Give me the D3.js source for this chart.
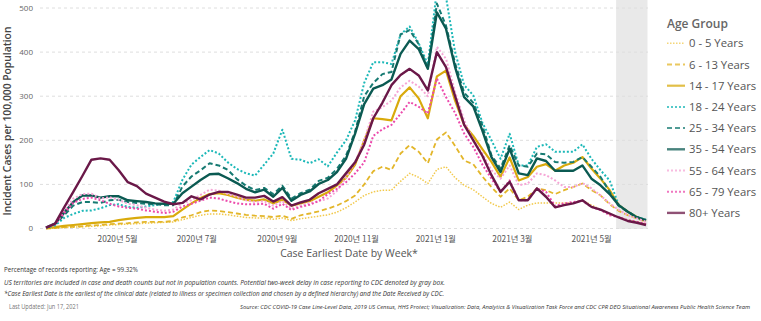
<!DOCTYPE html>
<html>
<head>
<meta charset="utf-8">
<script src="https://cdn.jsdelivr.net/npm/d3@7"></script>
<style>
  body { margin: 0; background: #fff; }
  svg { display: block; font-family: "Open Sans", "Noto Sans", sans-serif; }
</style>
</head>
<body>
<div id="chart"></div>
<script>
// weekly incidence per 100k, first week starting 2020-03-08
const firstWeek = '2020-03-08';
const weekCount = 67;
const delayStart = '2021-05-21';
const monthTicks = ['2020-05-01', '2020-07-01', '2020-09-01', '2020-11-01', '2021-01-01', '2021-03-01', '2021-05-01'];
const yTicks = [0, 100, 200, 300, 400, 500];

const ageGroups = ['0 - 5 Years', '6 - 13 Years', '14 - 17 Years', '18 - 24 Years', '25 - 34 Years',
  '35 - 54 Years', '55 - 64 Years', '65 - 79 Years', '80+ Years'];

const age0to5 = [0, 1, 2, 3, 4, 5, 6, 8, 9, 10, 11, 12, 13, 14, 15, 20, 25, 30, 33, 33, 31, 28, 25,
  24, 24, 21, 24, 18, 22, 25, 28, 31, 37,
  47, 60, 75, 83, 87, 87, 107, 125, 116, 102, 134, 140, 115, 98, 88, 72, 57,
  48, 60, 43, 53, 58, 58, 58, 58, 58, 64, 53, 43, 32, 26, 19, 15, 11];
const age6to13 = [0, 1, 3, 4, 5, 7, 8, 10, 11, 12, 14, 15, 15, 15, 17, 25, 30, 37, 41, 40, 37, 34, 31,
  29, 28, 26, 29, 22, 30, 34, 39, 45, 52,
  62, 75, 100, 130, 140, 133, 170, 189, 174, 148, 202, 218, 187, 154, 146, 118, 94,
  72, 91, 64, 72, 91, 87, 78, 87, 94, 102, 87, 75, 55, 40, 30, 23, 15];
const age14to17 = [1, 3, 6, 8, 10, 12, 14, 15, 19, 22, 24, 26, 26, 26, 28, 43, 57, 69, 78, 80, 76, 70, 65,
  63, 66, 57, 65, 52, 57, 62, 72, 82, 98,
  115, 145, 200, 250, 248, 245, 300, 320, 295, 250, 345, 358, 290, 235, 210, 180, 151,
  117, 161, 109, 117, 140, 146, 131, 143, 149, 162, 136, 113, 87, 53, 38, 26, 17];
const age18to24 = [2, 7, 24, 33, 40, 41, 46, 53, 55, 49, 47, 50, 53, 56, 60, 110, 145, 162, 178, 170, 150, 135, 125,
  120, 145, 170, 224, 158, 156, 148, 157, 141, 172,
  200, 245, 330, 377, 377, 373, 440, 458, 420, 372, 540, 525, 400, 325, 302, 240, 200,
  158, 215, 143, 143, 185, 191, 174, 174, 174, 191, 158, 132, 109, 53, 38, 26, 20];
const age25to34 = [2, 10, 30, 52, 60, 60, 58, 64, 65, 60, 58, 56, 55, 53, 53, 95, 118, 132, 148, 143, 133, 112, 97,
  87, 92, 78, 97, 68, 80, 88, 108, 115, 135,
  165, 220, 300, 330, 350, 355, 440, 450, 418, 362, 510, 460, 375, 308, 285, 234, 166,
  136, 189, 143, 140, 170, 168, 151, 149, 151, 162, 140, 117, 83, 51, 38, 26, 19];
const age35to54 = [2, 11, 36, 60, 75, 75, 70, 73, 73, 64, 62, 60, 57, 56, 56, 80, 95, 110, 123, 124, 114, 103, 90,
  82, 88, 72, 92, 63, 76, 84, 101, 110, 128,
  158, 215, 282, 317, 325, 338, 396, 426, 407, 362, 490, 453, 366, 298, 277, 222, 162,
  128, 181, 125, 121, 159, 153, 131, 131, 131, 143, 113, 98, 78, 53, 38, 25, 19];
const age55to64 = [2, 11, 40, 68, 78, 79, 68, 71, 65, 56, 53, 47, 43, 40, 43, 57, 64, 76, 88, 86, 78, 72, 64,
  60, 62, 52, 62, 45, 52, 58, 62, 68, 85,
  115, 150, 200, 265, 275, 290, 320, 335, 322, 300, 412, 385, 310, 245, 200, 170, 132,
  113, 143, 98, 102, 125, 121, 109, 94, 94, 103, 91, 75, 57, 42, 30, 23, 15];
const age65to79 = [2, 10, 35, 58, 67, 70, 64, 56, 50, 47, 45, 41, 38, 35, 38, 50, 56, 63, 70, 68, 62, 57, 55,
  55, 56, 45, 56, 42, 49, 54, 62, 78, 90,
  105, 125, 150, 210, 225, 235, 260, 287, 276, 261, 340, 298, 262, 215, 185, 145, 113,
  83, 109, 64, 64, 91, 83, 51, 57, 60, 63, 49, 42, 30, 26, 19, 15, 10];
const age80plus = [2, 11, 48, 83, 119, 156, 159, 156, 132, 105, 96, 79, 70, 61, 55, 58, 73, 66, 77, 83, 83, 77, 70,
  70, 74, 61, 71, 52, 59, 65, 80, 90, 100,
  125, 150, 190, 250, 285, 325, 348, 362, 347, 313, 400, 366, 300, 235, 200, 165, 121,
  83, 106, 64, 64, 91, 72, 48, 53, 57, 64, 49, 43, 34, 25, 17, 13, 8];

const seriesValues = [age0to5, age6to13, age14to17, age18to24, age25to34, age35to54, age55to64, age65to79, age80plus];

const lineStyles = [
  { color: '#f2c94c', width: 1.5, dash: '1.5,1.5' },
  { color: '#e3b62a', width: 1.8, dash: '5,3' },
  { color: '#d9aa0c', width: 2.2, dash: null },
  { color: '#1cb8b8', width: 2, dash: '2,2' },
  { color: '#167a72', width: 2, dash: '5,3' },
  { color: '#0b5a52', width: 2.4, dash: null },
  { color: '#f6a6d6', width: 2, dash: '2,2' },
  { color: '#ec4aac', width: 2, dash: '2,2' },
  { color: '#6a1848', width: 2.4, dash: null }
];

const W = 761, H = 321;
const parse = d3.utcParse('%Y-%m-%d');
const start = parse(firstWeek);
const weeks = d3.range(weekCount).map(i => d3.utcDay.offset(start, 7 * i));

const svg = d3.select('#chart').append('svg')
  .attr('width', W)
  .attr('height', H);

const x = d3.scaleUtc()
  .domain([weeks[0], weeks[weeks.length - 1]])
  .range([46, 646]);

const y = d3.scaleLinear()
  .domain([0, 500])
  .range([228.5, 8]);

// reporting-delay box
svg.append('rect')
  .attr('x', x(parse(delayStart)))
  .attr('y', 0)
  .attr('width', 647.5 - x(parse(delayStart)))
  .attr('height', y(0) + 0.5)
  .attr('fill', '#e9e9e9');

// gridlines + y labels
const yAxis = svg.append('g');
yAxis.selectAll('line')
  .data(yTicks)
  .enter().append('line')
  .attr('x1', 40)
  .attr('x2', 648)
  .attr('y1', d => y(d))
  .attr('y2', d => y(d))
  .attr('stroke', '#dedede')
  .attr('stroke-width', 1)
  .attr('stroke-dasharray', '3,3');
yAxis.selectAll('text')
  .data(yTicks)
  .enter().append('text')
  .attr('x', 33)
  .attr('y', d => y(d))
  .attr('dy', '0.35em')
  .attr('text-anchor', 'end')
  .attr('font-size', 8)
  .attr('fill', '#666')
  .text(d => d);

svg.append('text')
  .attr('transform', 'translate(11,121) rotate(-90)')
  .attr('text-anchor', 'middle')
  .attr('font-size', 10.3)
  .attr('font-weight', 600)
  .attr('fill', '#444')
  .text('Incident Cases per 100,000 Population');

// x axis labels
svg.append('g')
  .selectAll('text')
  .data(monthTicks.map(parse))
  .enter().append('text')
  .attr('x', d => x(d) + 1.5)
  .attr('y', 242)
  .attr('text-anchor', 'middle')
  .attr('font-family', '"Noto Sans CJK KR", sans-serif')
  .attr('font-size', 8.3)
  .attr('fill', '#555')
  .text(d => `${d.getUTCFullYear()}년 ${d.getUTCMonth() + 1}월`);

svg.append('text')
  .attr('x', 349)
  .attr('y', 257)
  .attr('text-anchor', 'middle')
  .attr('font-size', 10.5)
  .attr('fill', '#555')
  .text('Case Earliest Date by Week*');

// lines
svg.append('clipPath')
  .attr('id', 'plot-clip')
  .append('rect')
  .attr('x', 38)
  .attr('y', 0)
  .attr('width', 615)
  .attr('height', 234);

const line = d3.line()
  .x((d, i) => x(weeks[i]))
  .y(d => y(d));

svg.append('g')
  .attr('clip-path', 'url(#plot-clip)')
  .selectAll('path')
  .data(seriesValues)
  .enter().append('path')
  .attr('d', d => line(d))
  .attr('fill', 'none')
  .attr('stroke', (d, i) => lineStyles[i].color)
  .attr('stroke-width', (d, i) => lineStyles[i].width)
  .attr('stroke-dasharray', (d, i) => lineStyles[i].dash)
  .attr('stroke-linejoin', 'round');

// legend
const legend = svg.append('g');
legend.append('text')
  .attr('x', 667)
  .attr('y', 28)
  .attr('font-size', 12)
  .attr('font-weight', 600)
  .attr('fill', '#666')
  .text('Age Group');

const item = legend.selectAll('.item')
  .data(ageGroups)
  .enter().append('g')
  .attr('class', 'item')
  .attr('transform', (d, i) => `translate(667,${43.3 + i * 21.2})`);
item.append('line')
  .attr('x1', 0)
  .attr('x2', 18)
  .attr('stroke', (d, i) => lineStyles[i].color)
  .attr('stroke-width', (d, i) => lineStyles[i].width)
  .attr('stroke-dasharray', (d, i) => lineStyles[i].dash)
  .attr('opacity', 0.75);
item.append('text')
  .attr('x', 22)
  .attr('dy', '0.36em')
  .attr('font-size', 11.3)
  .attr('fill', '#555')
  .text(d => d);

// footnotes
const notes = svg.append('g').attr('font-size', 6.3).attr('fill', '#333');
notes.append('text')
  .attr('x', 4).attr('y', 271.5)
  .attr('textLength', 134).attr('lengthAdjust', 'spacingAndGlyphs')
  .text('Percentage of records reporting: Age = 99.32%');
notes.append('text')
  .attr('x', 4).attr('y', 284.5)
  .attr('font-style', 'italic')
  .attr('textLength', 441).attr('lengthAdjust', 'spacingAndGlyphs')
  .text('US territories are included in case and death counts but not in population counts. Potential two-week delay in case reporting to CDC denoted by gray box.');
notes.append('text')
  .attr('x', 4).attr('y', 296)
  .attr('font-style', 'italic')
  .attr('textLength', 440).attr('lengthAdjust', 'spacingAndGlyphs')
  .text('*Case Earliest Date is the earliest of the clinical date (related to illness or specimen collection and chosen by a defined hierarchy) and the Date Received by CDC.');
notes.append('text')
  .attr('x', 9).attr('y', 309)
  .attr('fill', '#777')
  .attr('textLength', 70).attr('lengthAdjust', 'spacingAndGlyphs')
  .text('Last Updated: Jun 17, 2021');
notes.append('text')
  .attr('x', 240).attr('y', 309)
  .attr('font-size', 5.5)
  .attr('font-style', 'italic')
  .attr('textLength', 510).attr('lengthAdjust', 'spacingAndGlyphs')
  .text('Source: CDC COVID-19 Case Line-Level Data, 2019 US Census, HHS Protect; Visualization: Data, Analytics & Visualization Task Force and CDC CPR DEO Situational Awareness Public Health Science Team');
</script>
</body>
</html>
